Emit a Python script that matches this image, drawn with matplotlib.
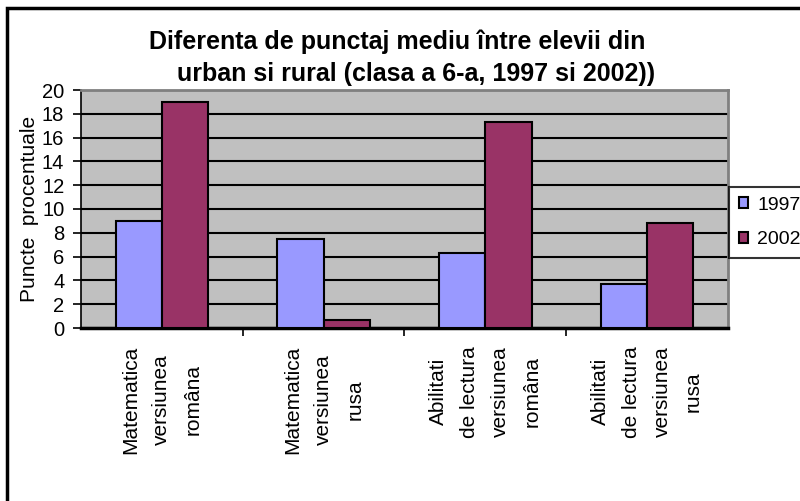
import numpy as np
import matplotlib
matplotlib.use('Agg')
import matplotlib.pyplot as plt
from matplotlib.patches import Rectangle

plt.rcParams['font.family'] = ['Liberation Sans', 'DejaVu Sans']

categories = ['Matematica\nversiunea\nromâna',
              'Matematica\nversiunea\nrusa',
              'Abilitati\nde lectura\nversiunea\nromâna',
              'Abilitati\nde lectura\nversiunea\nrusa']
series = ['1997', '2002']
v1997 = [9.0, 7.5, 6.3, 3.7]
v2002 = [19.0, 0.7, 17.3, 8.8]
colors = ['#9999FF', '#993366']

W, H = 800, 501
fig = plt.figure(figsize=(8, 5.01), dpi=100)
ax = fig.add_axes([81/W, 1-328/H, (728-81)/W, (328-90)/H])
ax.set_facecolor('#C0C0C0')

x = np.arange(len(categories))
bw = 1/3.5
b1 = ax.bar(x - bw/2, v1997, bw, color=colors[0], edgecolor='black', linewidth=1.5, zorder=3, label=series[0])
b2 = ax.bar(x + bw/2, v2002, bw, color=colors[1], edgecolor='black', linewidth=1.5, zorder=3, label=series[1])

ax.set_xlim(-0.5, 3.5)
ax.set_ylim(0, 20)
ax.set_yticks(np.arange(0, 21, 2))
ax.yaxis.grid(True, color='black', linewidth=1.5, zorder=1)
ax.set_axisbelow(True)
ax.tick_params(axis='y', labelsize=14.5, direction='out', length=6, width=1.2, pad=6)

ax.set_xticks([0.5, 1.5, 2.5])
ax.set_xticklabels([])
ax.tick_params(axis='x', direction='out', length=6, width=1.2)
for xi, lab in zip(x, categories):
    ax.text(xi, -1.5, lab, rotation=90, ha='center', va='top', multialignment='center',
            fontsize=15, linespacing=1.8, transform=ax.transData)

for s in ['top', 'right']:
    ax.spines[s].set_color('#808080')
    ax.spines[s].set_linewidth(2)
ax.spines['left'].set_linewidth(1.2)
ax.spines['bottom'].set_linewidth(2.5)

ax.set_ylabel('Puncte  procentuale', fontsize=15, labelpad=2)

fig.text(397/W, 1-42/H, 'Diferenta de punctaj mediu între elevii din', ha='center', va='center',
         fontsize=18, fontweight='bold')
fig.text(416/W, 1-74/H, 'urban si rural (clasa a 6-a, 1997 si 2002))', ha='center', va='center',
         fontsize=18, fontweight='bold')

leg = fig.legend(handles=[b1, b2], loc='upper left', bbox_to_anchor=(729/W, 1-187/H),
                 fontsize=14, frameon=True, fancybox=False, edgecolor='black',
                 handlelength=0.5, handleheight=0.5, labelspacing=0.9, borderpad=0.5,
                 handletextpad=0.45, borderaxespad=0)
leg.get_frame().set_linewidth(1.5)

fig.patches.append(Rectangle((7/W, -0.1), 1.2, 1-8/H+0.1, transform=fig.transFigure,
                             fill=False, edgecolor='black', linewidth=2.5))

fig.savefig('out.png', dpi=100)
